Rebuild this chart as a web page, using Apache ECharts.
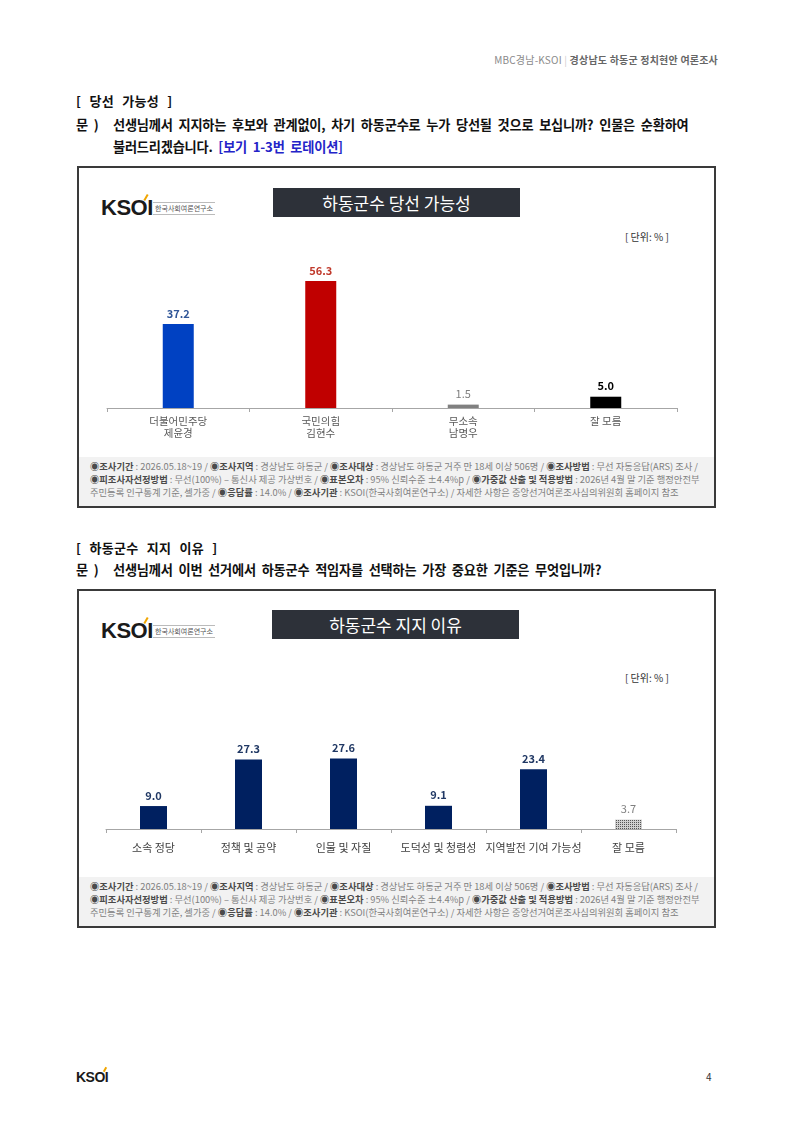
<!DOCTYPE html>
<html><head><meta charset="utf-8">
<script src="https://cdn.jsdelivr.net/npm/echarts@6/dist/echarts.min.js"></script>
<style>
html,body{margin:0;padding:0;background:#fff;}
body{width:793px;height:1121px;position:relative;overflow:hidden;font-family:"Noto Sans CJK KR","Noto Sans",sans-serif;}
.a{position:absolute;white-space:nowrap;}
.box{position:absolute;left:77px;width:635px;border:2px solid #3a3a3a;background:#fff;}
.fn{position:absolute;left:0;right:0;background:#f2f2f2;}
.fnt{position:absolute;left:11px;font-size:9.3px;line-height:13px;color:#808080;letter-spacing:0px;white-space:nowrap;}
.fnt b{color:#4a4a4a;font-weight:700;}
.ttl{position:absolute;background:#2d3139;color:#fff;font-size:17px;text-align:center;white-space:nowrap;}
.unit{position:absolute;font-size:10px;color:#333;white-space:nowrap;}
.logo{position:absolute;white-space:nowrap;}
.logo .k{position:absolute;left:0;top:0;font-family:"Liberation Sans",Arial,sans-serif;font-weight:700;font-size:22px;line-height:22px;color:#1a1a1a;letter-spacing:-0.5px;}
.logo .acc{position:absolute;left:44px;top:-3px;width:2px;height:7px;background:#f0a500;transform:rotate(30deg);}
.logo .sub{position:absolute;left:52px;top:5px;font-size:7px;line-height:11px;color:#555;border-top:1px solid #bbb;border-bottom:1px solid #bbb;padding:0 2px;white-space:nowrap;}
.h{font-size:13px;font-weight:700;color:#111;line-height:16px;letter-spacing:0.3px;word-spacing:5px;}
.q{font-size:13.2px;font-weight:700;color:#111;line-height:16px;letter-spacing:-0.2px;word-spacing:3px;}
#chart{position:absolute;left:0;top:0;width:793px;height:1121px;z-index:5;}
</style></head>
<body>
<div class="a" style="right:75px;top:53px;font-size:10px;line-height:14px;color:#8a8a8a;letter-spacing:0.2px;">MBC경남-KSOI <span style="color:#ccc">|</span> <span style="color:#666;font-weight:700">경상남도 하동군 정치현안 여론조사</span></div>

<div class="a h" style="left:76px;top:93px;">[ 당선 가능성 ]</div>
<div class="a q" style="left:76px;top:117px;">문 )</div>
<div class="a q" style="left:113px;top:117px;">선생님께서 지지하는 후보와 관계없이, 차기 하동군수로 누가 당선될 것으로 보십니까? 인물은 순환하여</div>
<div class="a q" style="left:113px;top:139px;">불러드리겠습니다. <span style="color:#2323c8">[보기 1-3번 로테이션]</span></div>

<div class="box" style="top:166px;height:338px;">
  <div class="logo" style="left:22px;top:29px;"><div class="k">KSOI</div><div class="acc"></div><div class="sub">한국사회여론연구소</div></div>
  <div class="ttl" style="left:194px;top:20px;width:247px;height:29px;line-height:29px;">하동군수 당선 가능성</div>
  <div class="unit" style="left:546px;top:61px;">[ 단위: % ]</div>
  <div class="fn" style="top:289px;height:49px;">
    <div class="fnt" style="top:3px;"><b>◉조사기간</b> : 2026.05.18~19 / <b>◉조사지역</b> : 경상남도 하동군 / <b>◉조사대상</b> : 경상남도 하동군 거주 만 18세 이상 506명 / <b>◉조사방법</b> : 무선 자동응답(ARS) 조사 /</div>
    <div class="fnt" style="top:16px;"><b>◉피조사자선정방법</b> : 무선(100%) – 통신사 제공 가상번호 / <b>◉표본오차</b> : 95% 신뢰수준 ±4.4%p / <b>◉가중값 산출 및 적용방법</b> : 2026년 4월 말 기준 행정안전부</div>
    <div class="fnt" style="top:29px;">주민등록 인구통계 기준, 셀가중 / <b>◉응답률</b> : 14.0% / <b>◉조사기관</b> : KSOI(한국사회여론연구소) / 자세한 사항은 중앙선거여론조사심의위원회 홈페이지 참조</div>
  </div>
</div>

<div class="a h" style="left:76px;top:540px;">[ 하동군수 지지 이유 ]</div>
<div class="a q" style="left:76px;top:562px;">문 )</div>
<div class="a q" style="left:113px;top:562px;">선생님께서 이번 선거에서 하동군수 적임자를 선택하는 가장 중요한 기준은 무엇입니까?</div>

<div class="box" style="top:589px;height:335px;">
  <div class="logo" style="left:22px;top:29px;"><div class="k">KSOI</div><div class="acc"></div><div class="sub">한국사회여론연구소</div></div>
  <div class="ttl" style="left:193px;top:19px;width:247px;height:29px;line-height:29px;">하동군수 지지 이유</div>
  <div class="unit" style="left:546px;top:79px;">[ 단위: % ]</div>
  <div class="fn" style="top:286px;height:49px;">
    <div class="fnt" style="top:3px;"><b>◉조사기간</b> : 2026.05.18~19 / <b>◉조사지역</b> : 경상남도 하동군 / <b>◉조사대상</b> : 경상남도 하동군 거주 만 18세 이상 506명 / <b>◉조사방법</b> : 무선 자동응답(ARS) 조사 /</div>
    <div class="fnt" style="top:16px;"><b>◉피조사자선정방법</b> : 무선(100%) – 통신사 제공 가상번호 / <b>◉표본오차</b> : 95% 신뢰수준 ±4.4%p / <b>◉가중값 산출 및 적용방법</b> : 2026년 4월 말 기준 행정안전부</div>
    <div class="fnt" style="top:29px;">주민등록 인구통계 기준, 셀가중 / <b>◉응답률</b> : 14.0% / <b>◉조사기관</b> : KSOI(한국사회여론연구소) / 자세한 사항은 중앙선거여론조사심의위원회 홈페이지 참조</div>
  </div>
</div>

<div class="logo" style="left:76px;top:1070px;"><div class="k" style="font-size:14px;line-height:14px;">KSOI</div><div class="acc" style="left:28px;top:-3px;height:5px;"></div></div>
<div class="a" style="left:706px;top:1070px;font-size:10px;line-height:14px;color:#333;">4</div>

<div id="chart"></div>
<script>
// Chart 1: 하동군수 당선 가능성
const cats1 = ['더불어민주당\n제윤경', '국민의힘\n김현수', '무소속\n남명우', '잘 모름'];
const vals1 = [37.2, 56.3, 1.5, 5.0];
// Chart 2: 하동군수 지지 이유
const cats2 = ['소속 정당', '정책 및 공약', '인물 및 자질', '도덕성 및 청렴성', '지역발전 기여 가능성', '잘 모름'];
const vals2 = [9.0, 27.3, 27.6, 9.1, 23.4, 3.7];

const barColors1 = ['#0041c2', '#c00000', '#808080', '#000000'];
const labelColors1 = ['#2f5597', '#c0392b', '#7f7f7f', '#000000'];
const labelBold1 = [true, true, false, true];
const barColor2 = '#002060';
const labelColor2 = '#203864';

const font = '"Noto Sans CJK KR","Noto Sans",sans-serif';
const chart = echarts.init(document.getElementById('chart'), null, {renderer: 'canvas'});

const d1 = vals1.map((v, i) => ({
  value: v,
  itemStyle: {color: barColors1[i]},
  label: {color: labelColors1[i], fontWeight: labelBold1[i] ? 'bold' : 'normal'}
}));
const d2 = vals2.map((v, i) => {
  const last = i === vals2.length - 1;
  return {
    value: v,
    itemStyle: last ? {color: '#d0d0d0', decal: {color: '#555555', symbol: 'rect', symbolSize: 1, dashArrayX: [1, 1], dashArrayY: [1, 1], rotation: 0}} : {color: barColor2},
    label: last ? {color: '#7f7f7f', fontWeight: 'normal'} : {color: labelColor2, fontWeight: 'bold'}
  };
});

const axisCommon = {
  type: 'category',
  axisLine: {lineStyle: {color: '#a6a6a6', width: 1}},
  axisTick: {show: true, length: 4, lineStyle: {color: '#a6a6a6'}},
};

chart.setOption({
  animation: false,
  textStyle: {fontFamily: font},
  grid: [
    {left: 107, right: 116, top: 250, bottom: 713},
    {left: 106, right: 117, top: 727, bottom: 292}
  ],
  xAxis: [
    Object.assign({}, axisCommon, {gridIndex: 0, data: cats1,
      axisLabel: {color: '#595959', fontSize: 10.5, lineHeight: 12, margin: 7, interval: 0, fontFamily: font}}),
    Object.assign({}, axisCommon, {gridIndex: 1, data: cats2,
      axisLabel: {color: '#404040', fontSize: 11, margin: 13, interval: 0, fontFamily: font}})
  ],
  yAxis: [
    {gridIndex: 0, type: 'value', min: 0, max: 70, show: false},
    {gridIndex: 1, type: 'value', min: 0, max: 40, show: false}
  ],
  series: [
    {type: 'bar', xAxisIndex: 0, yAxisIndex: 0, data: d1, barWidth: 31,
      label: {show: true, position: 'top', distance: 5, fontSize: 11, fontFamily: font,
        formatter: p => p.value.toFixed(1)}},
    {type: 'bar', xAxisIndex: 1, yAxisIndex: 1, data: d2, barWidth: 27,
      label: {show: true, position: 'top', distance: 5, fontSize: 11, fontFamily: font,
        formatter: p => p.value.toFixed(1)}}
  ]
});
</script>
</body></html>
